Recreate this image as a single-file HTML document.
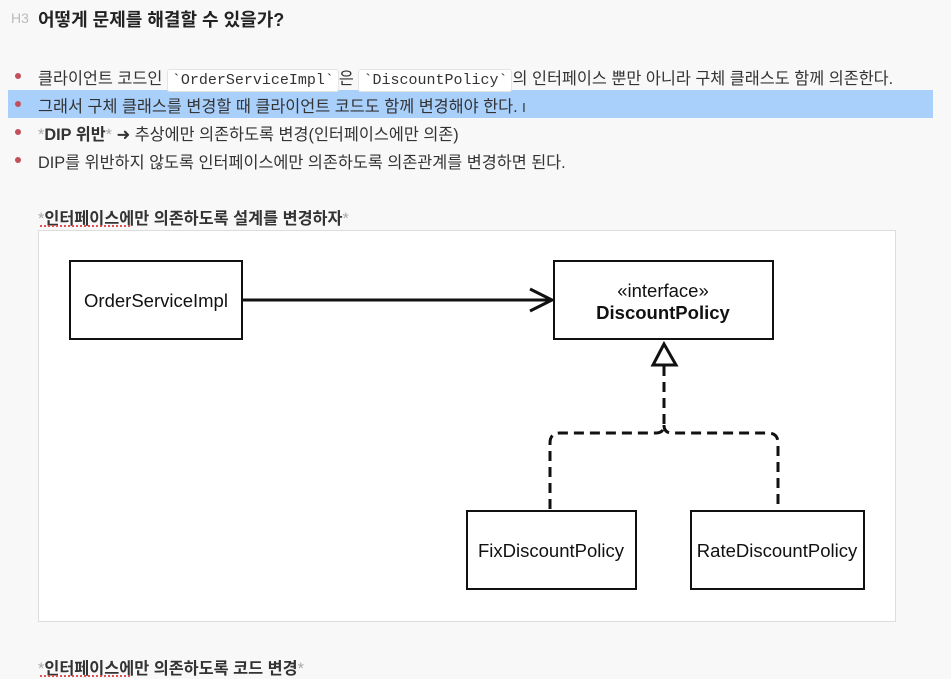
<!DOCTYPE html>
<html><head><meta charset="utf-8"><style>
body{margin:0;width:951px;height:679px;background:#f8f8f8;font-family:"Liberation Sans","Noto Sans CJK KR",sans-serif;color:#333;position:relative;overflow:hidden}
.a{position:absolute;white-space:nowrap}
.t{font-size:16.3px}
.dot{position:absolute;width:6px;height:6px;border-radius:50%;background:#c0505a}
code{font-family:"Liberation Mono",monospace;font-size:15px;background:#fff;border:1px solid #e4e4e4;border-radius:3px;padding:2px 4px}
.g{color:#aaa}
</style></head><body>
<div class="a" style="left:11px;top:10px;font-size:14px;color:#bbb">H3</div>
<div class="a" style="left:38px;top:6px;font-size:18px;font-weight:bold;color:#222">어떻게 문제를 해결할 수 있을가?</div>
<div style="position:absolute;left:8px;top:90px;width:925px;height:28px;background:#a9cffb"></div>
<div class="dot" style="left:15px;top:73px"></div>
<div class="dot" style="left:15px;top:101px"></div>
<div class="dot" style="left:15px;top:129px"></div>
<div class="dot" style="left:15px;top:157px"></div>
<div class="a t" style="left:38px;top:65px">클라이언트 코드인 <code>`OrderServiceImpl`</code>은 <code>`DiscountPolicy`</code>의 인터페이스 뿐만 아니라 구체 클래스도 함께 의존한다.</div>
<div class="a t" style="left:38px;top:93px">그래서 구체 클래스를 변경할 때 클라이언트 코드도 함께 변경해야 한다. <span style="font-size:13px">I</span></div>
<div class="a t" style="left:38px;top:121px"><span class="g">*</span><b>DIP 위반</b><span class="g">*</span> ➜ 추상에만 의존하도록 변경(인터페이스에만 의존)</div>
<div class="a t" style="left:38px;top:149px">DIP를 위반하지 않도록 인터페이스에만 의존하도록 의존관계를 변경하면 된다.</div>
<div class="a t" style="left:38px;top:205px"><span class="g">*</span><b>인터페이스에만 의존하도록 설계를 변경하자</b><span class="g">*</span></div>
<div style="position:absolute;left:40px;top:225px;width:90px;border-top:2px dotted #e05050"></div>
<div class="a t" style="left:38px;top:655px"><span class="g">*</span><b>인터페이스에만 의존하도록 코드 변경</b><span class="g">*</span></div>
<div style="position:absolute;left:40px;top:675px;width:90px;border-top:2px dotted #e05050"></div>
<svg style="position:absolute;left:0;top:0" width="951" height="679">
<rect x="38.5" y="230.5" width="857" height="391" fill="#fff" stroke="#ddd"/>
<g fill="none" stroke="#111" stroke-width="2">
<rect x="70" y="261" width="172" height="78"/>
<rect x="554" y="261" width="219" height="78"/>
<rect x="467" y="511" width="169" height="78"/>
<rect x="691" y="511" width="173" height="78"/>
</g>
<line x1="242" y1="300" x2="551" y2="300" stroke="#111" stroke-width="3"/>
<polyline points="530,289 552,300 530,311" fill="none" stroke="#111" stroke-width="3"/>
<polygon points="664,344 653,365 676,365" fill="#fff" stroke="#111" stroke-width="3"/>
<path d="M664 366 V425 Q664 433 656 433 H560 Q550 433 550 443 V510 M664 425 Q664 433 672 433 H768 Q778 433 778 443 V510" fill="none" stroke="#111" stroke-width="3" stroke-dasharray="10,6"/>
<g font-family="Liberation Sans,sans-serif" font-size="18.5" fill="#111" text-anchor="middle">
<text x="156" y="307">OrderServiceImpl</text>
<text x="663" y="297">«interface»</text>
<text x="663" y="319" font-weight="bold">DiscountPolicy</text>
<text x="551" y="557">FixDiscountPolicy</text>
<text x="777" y="557">RateDiscountPolicy</text>
</g>
</svg>
</body></html>
